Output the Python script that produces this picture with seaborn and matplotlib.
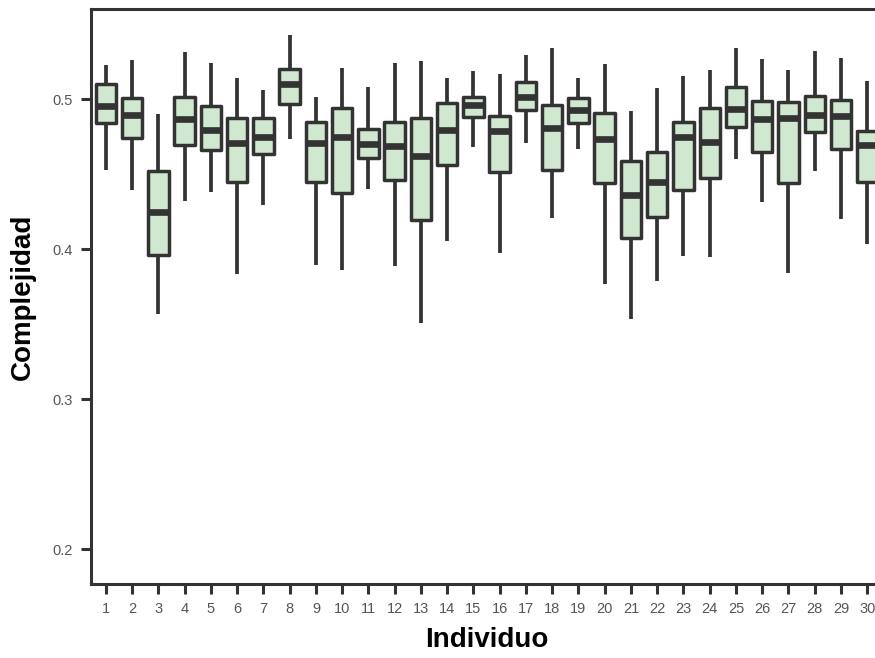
import numpy as np
import pandas as pd
import matplotlib
matplotlib.use("Agg")
import matplotlib.pyplot as plt
import seaborn as sns

individuos = [str(i) for i in range(1, 31)]
whisker_low = [0.4527, 0.4393, 0.3565, 0.4320, 0.4378, 0.3831, 0.4293, 0.4731, 0.3893, 0.3860,
               0.4398, 0.3889, 0.3504, 0.4055, 0.4682, 0.3971, 0.4704, 0.4204, 0.4664, 0.3765,
               0.3533, 0.3787, 0.3956, 0.3944, 0.4598, 0.4311, 0.3842, 0.4520, 0.4200, 0.4033]
q1 = [0.4840, 0.4738, 0.3960, 0.4693, 0.4660, 0.4449, 0.4631, 0.4965, 0.4449, 0.4376,
      0.4604, 0.4460, 0.4193, 0.4560, 0.4882, 0.4511, 0.4927, 0.4527, 0.4842, 0.4442,
      0.4071, 0.4216, 0.4393, 0.4471, 0.4811, 0.4649, 0.4442, 0.4778, 0.4667, 0.4444]
median = [0.4953, 0.4893, 0.4245, 0.4867, 0.4793, 0.4704, 0.4744, 0.5100, 0.4704, 0.4749,
          0.4700, 0.4689, 0.4620, 0.4793, 0.4960, 0.4789, 0.5016, 0.4804, 0.4927, 0.4731,
          0.4360, 0.4449, 0.4749, 0.4716, 0.4931, 0.4867, 0.4871, 0.4893, 0.4887, 0.4693]
q3 = [0.5100, 0.5005, 0.4522, 0.5016, 0.4953, 0.4875, 0.4875, 0.5200, 0.4844, 0.4938,
      0.4800, 0.4849, 0.4876, 0.4971, 0.5011, 0.4887, 0.5116, 0.4960, 0.5009, 0.4904,
      0.4589, 0.4644, 0.4844, 0.4938, 0.5082, 0.4989, 0.4982, 0.5022, 0.4993, 0.4789]
whisker_high = [0.5227, 0.5260, 0.4898, 0.5316, 0.5238, 0.5138, 0.5060, 0.5427, 0.5016, 0.5209,
                0.5082, 0.5242, 0.5256, 0.5142, 0.5189, 0.5167, 0.5293, 0.5342, 0.5142, 0.5231,
                0.4922, 0.5076, 0.5153, 0.5193, 0.5338, 0.5264, 0.5193, 0.5322, 0.5276, 0.5120]

rows = []
for i, ind in enumerate(individuos):
    for v in (whisker_low[i], q1[i], median[i], q3[i], whisker_high[i]):
        rows.append({"Individuo": ind, "Complejidad": v})
df = pd.DataFrame(rows)

sns.set_theme(style="ticks")
plt.rcParams["font.family"] = ["Liberation Sans", "DejaVu Sans"]

dark = "#333333"
fill = "#cfe8cf"
fig = plt.figure(figsize=(8.75, 6.58), dpi=100)
ax = fig.add_axes([91 / 875, 1 - 584 / 658, 792 / 875, (584 - 9) / 658])

sns.boxplot(data=df, x="Individuo", y="Complejidad", order=individuos, ax=ax,
            whis=(0, 100), width=0.78, color=fill, saturation=1,
            linewidth=2.5, linecolor=dark, showfliers=False,
            showcaps=False,
            medianprops=dict(linewidth=4.8, color=dark, solid_capstyle="butt"),
            boxprops=dict(edgecolor=dark, facecolor=fill, joinstyle="round"),
            whiskerprops=dict(linewidth=2.7, color=dark))

ax.set_xlim(-0.57, 29.6)
ax.set_ylim(0.1767, 0.56)
ax.set_yticks([0.2, 0.3, 0.4, 0.5])
ax.set_yticklabels(["0.2", "0.3", "0.4", "0.5"])

for side in ["left", "bottom", "top", "right"]:
    ax.spines[side].set_linewidth(2.2)
    ax.spines[side].set_color(dark)

ax.tick_params(axis="both", length=7, width=2.2, color=dark,
               labelsize=10.5, labelcolor="#555555", pad=6)

ax.set_xlabel("Individuo", fontsize=20, fontweight="bold", color="black", labelpad=8)
ax.set_ylabel("Complejidad", fontsize=20, fontweight="bold", color="black", labelpad=12)

fig.savefig("out.png", dpi=100)
